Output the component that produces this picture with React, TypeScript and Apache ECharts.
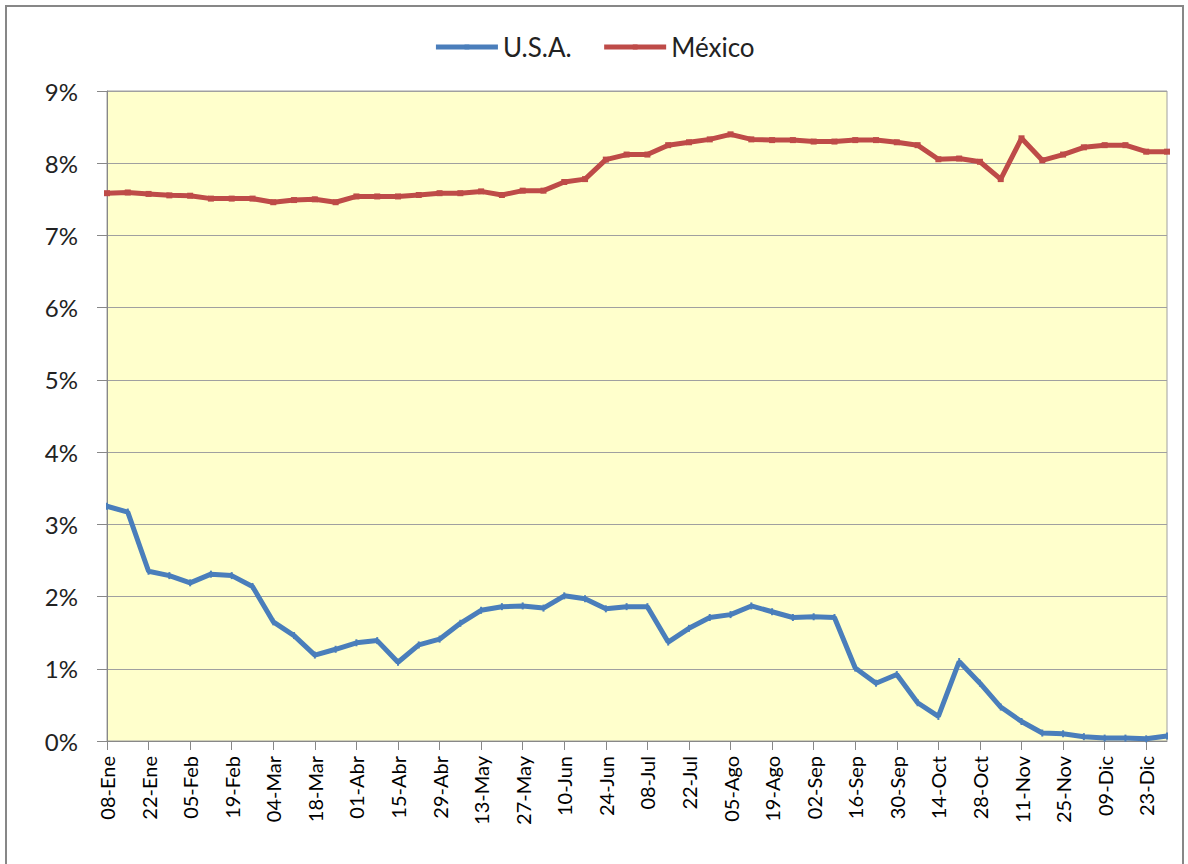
import React, { useEffect, useRef } from "react";
import * as echarts from "echarts";

const categories = [
  "08-Ene", "15-Ene", "22-Ene", "29-Ene", "05-Feb", "12-Feb", "19-Feb", "26-Feb",
  "04-Mar", "11-Mar", "18-Mar", "25-Mar", "01-Abr", "08-Abr", "15-Abr", "22-Abr",
  "29-Abr", "06-May", "13-May", "20-May", "27-May", "03-Jun", "10-Jun", "17-Jun",
  "24-Jun", "01-Jul", "08-Jul", "15-Jul", "22-Jul", "29-Jul", "05-Ago", "12-Ago",
  "19-Ago", "26-Ago", "02-Sep", "09-Sep", "16-Sep", "23-Sep", "30-Sep", "07-Oct",
  "14-Oct", "21-Oct", "28-Oct", "04-Nov", "11-Nov", "18-Nov", "25-Nov", "02-Dic",
  "09-Dic", "16-Dic", "23-Dic", "30-Dic",
];

const usaValues = [
  3.25, 3.17, 2.35, 2.29, 2.19, 2.31, 2.29, 2.14, 1.65, 1.46,
  1.19, 1.27, 1.36, 1.39, 1.09, 1.33, 1.41, 1.63, 1.81, 1.86,
  1.87, 1.84, 2.01, 1.97, 1.83, 1.86, 1.86, 1.37, 1.56, 1.71,
  1.75, 1.87, 1.79, 1.71, 1.72, 1.71, 1.01, 0.8, 0.92, 0.53,
  0.34, 1.1, 0.8, 0.47, 0.27, 0.11, 0.1, 0.06, 0.04, 0.04,
  0.03, 0.07,
];

const mexicoValues = [
  7.585, 7.595, 7.575, 7.555, 7.55, 7.51, 7.51, 7.51, 7.46, 7.49,
  7.5, 7.46, 7.54, 7.54, 7.54, 7.56, 7.585, 7.585, 7.61, 7.56,
  7.62, 7.62, 7.74, 7.78, 8.05, 8.12, 8.12, 8.25, 8.29, 8.33,
  8.4, 8.33, 8.32, 8.32, 8.3, 8.3, 8.32, 8.32, 8.29, 8.25,
  8.055, 8.065, 8.02, 7.78, 8.345, 8.04, 8.12, 8.22, 8.25, 8.25,
  8.16, 8.16,
];

const seriesNames = ["U.S.A.", "México"];
const yMin = 0;
const yMax = 9;
const yInterval = 1;

export default function App() {
  const ref = useRef<HTMLDivElement>(null);
  useEffect(() => {
    document.body.style.margin = "0";
    if (!ref.current) return;
    const chart = echarts.init(ref.current, undefined, { renderer: "svg" });
    const font = "Lato, 'Open Sans', sans-serif";
    chart.setOption({
      animation: false,
      backgroundColor: "#ffffff",
      textStyle: { fontFamily: font },
      graphic: [
        {
          type: "rect",
          shape: { x: 6, y: 6, width: 1177, height: 900 },
          style: { fill: "none", stroke: "#878787", lineWidth: 2 },
          silent: true,
        },
      ],
      legend: {
        top: 29,
        left: "center",
        itemWidth: 62,
        itemHeight: 6,
        itemGap: 30,
        lineStyle: { width: 5 },
        textStyle: { fontSize: 26, color: "#222", fontFamily: font },
        data: seriesNames,
      },
      grid: {
        left: 107,
        right: 21,
        top: 91,
        bottom: 123,
        show: true,
        backgroundColor: "#FFFFCC",
        borderColor: "#A0A0A0",
        borderWidth: 1,
      },
      xAxis: {
        type: "category",
        data: categories,
        boundaryGap: false,
        axisLine: { show: true, lineStyle: { color: "#888", width: 1 } },
        axisTick: { show: true, interval: 1, length: 9, lineStyle: { color: "#888" } },
        axisLabel: {
          interval: 1,
          rotate: 90,
          margin: 15,
          fontSize: 20,
          color: "#000",
          fontFamily: font,
        },
        splitLine: { show: false },
      },
      yAxis: {
        type: "value",
        min: yMin,
        max: yMax,
        interval: yInterval,
        axisLine: { show: true, lineStyle: { color: "#888", width: 1 } },
        axisTick: { show: true, length: 10, lineStyle: { color: "#888" } },
        axisLabel: {
          formatter: "{value}%",
          fontSize: 24,
          color: "#222",
          margin: 29,
          fontFamily: font,
        },
        splitLine: { show: true, lineStyle: { color: "#A0A0A0", width: 1 } },
      },
      series: [
        {
          name: seriesNames[0],
          type: "line",
          data: usaValues,
          color: "#4A7EBB",
          lineStyle: { width: 5, color: "#4A7EBB" },
          symbol: "rect",
          symbolSize: [2, 7],
          showSymbol: true,
          itemStyle: { color: "#4A7EBB" },
        },
        {
          name: seriesNames[1],
          type: "line",
          data: mexicoValues,
          color: "#BE4B48",
          lineStyle: { width: 5, color: "#BE4B48" },
          symbol: "rect",
          symbolSize: 6,
          showSymbol: true,
          itemStyle: { color: "#BE4B48" },
        },
      ],
    });
    return () => chart.dispose();
  }, []);
  return <div ref={ref} style={{ width: 1188, height: 864 }} />;
}
